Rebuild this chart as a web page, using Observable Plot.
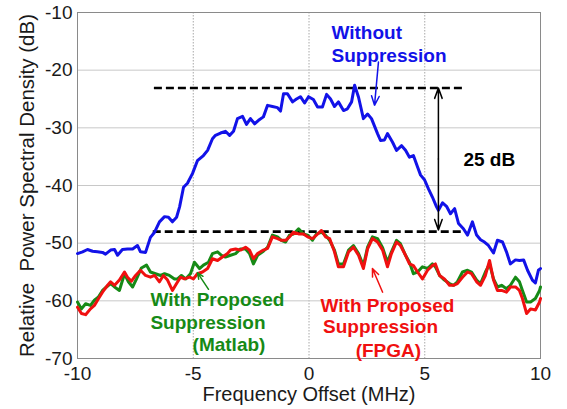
<!DOCTYPE html>
<html>
<head>
<meta charset="utf-8">
<script src="https://cdn.jsdelivr.net/npm/d3@7"></script>
<script src="https://cdn.jsdelivr.net/npm/@observablehq/plot@0.6"></script>
<style>
  html, body { margin: 0; padding: 0; background: white; }
</style>
</head>
<body>
<div id="chart"></div>
<script>
// ---- data ----
const xTicks = [-10, -5, 0, 5, 10];
const yTicks = [-70, -60, -50, -40, -30, -20, -10];
const xLabel = "Frequency Offset (MHz)";
const yLabel = "Relative\u00a0\u00a0Power Spectral Density (dB)";

// Without suppression (blue)
const freqBlue = [-10.00,-9.78,-9.57,-9.35,-9.14,-8.92,-8.79,-8.57,-8.40,-8.27,-8.06,-7.84,-7.62,-7.41,-7.28,-7.06,-6.85,-6.67,-6.46,-6.24,-6.07,-5.90,-5.72,-5.59,-5.42,-5.25,-5.03,-4.82,-4.56,-4.38,-4.17,-4.04,-3.82,-3.61,-3.43,-3.26,-3.09,-2.87,-2.70,-2.53,-2.35,-2.18,-1.97,-1.79,-1.58,-1.36,-1.23,-1.10,-0.93,-0.71,-0.54,-0.37,-0.19,-0.02,0.19,0.37,0.58,0.76,0.93,1.10,1.27,1.49,1.66,1.84,1.97,2.14,2.35,2.53,2.70,2.96,3.09,3.26,3.39,3.61,3.78,4.00,4.17,4.34,4.51,4.69,4.82,4.99,5.16,5.33,5.51,5.59,5.77,5.94,6.11,6.29,6.46,6.67,6.85,7.06,7.24,7.41,7.58,7.75,7.97,8.14,8.36,8.53,8.70,8.92,9.09,9.27,9.44,9.65,9.78,9.91,10.00];
const psdBlue = [-51.8,-51.5,-51.1,-51.4,-51.5,-51.6,-51.9,-51.2,-51.1,-52.1,-51.1,-51.0,-51.0,-50.4,-51.5,-51.6,-49.0,-48.1,-46.3,-45.4,-45.5,-46.3,-45.5,-43.7,-40.3,-39.6,-37.9,-35.7,-34.8,-33.9,-31.9,-31.3,-30.9,-30.6,-31.3,-30.6,-28.4,-28.0,-29.4,-28.4,-29.3,-28.7,-28.1,-26.1,-26.3,-26.5,-27.1,-24.1,-24.1,-25.5,-25.0,-24.6,-25.7,-24.6,-25.1,-26.4,-26.4,-24.2,-25.0,-26.3,-25.5,-27.0,-26.7,-25.5,-22.6,-24.7,-28.4,-27.6,-28.4,-31.0,-32.2,-32.1,-31.0,-32.5,-33.9,-33.1,-33.9,-35.1,-34.8,-36.8,-38.2,-39.0,-40.6,-42.0,-43.7,-44.3,-43.0,-43.6,-44.9,-44.0,-46.6,-47.5,-48.6,-46.3,-48.6,-49.4,-49.8,-50.4,-51.7,-49.5,-49.8,-51.5,-53.6,-52.9,-53.0,-52.9,-54.7,-56.4,-56.9,-54.7,-54.4];

// With proposed suppression, Matlab (green)
const freqGreen = [-10.00,-9.83,-9.65,-9.44,-9.27,-9.09,-8.92,-8.75,-8.57,-8.40,-8.19,-7.97,-7.80,-7.62,-7.45,-7.24,-7.02,-6.85,-6.63,-6.41,-6.24,-6.03,-5.81,-5.68,-5.51,-5.33,-5.12,-4.95,-4.73,-4.56,-4.34,-4.17,-3.95,-3.78,-3.61,-3.39,-3.17,-2.96,-2.74,-2.57,-2.40,-2.22,-1.97,-1.79,-1.58,-1.36,-1.19,-1.01,-0.84,-0.67,-0.45,-0.24,-0.06,0.15,0.32,0.54,0.71,0.89,1.10,1.27,1.49,1.71,1.92,2.14,2.35,2.53,2.74,2.96,3.18,3.39,3.56,3.78,3.95,4.17,4.34,4.51,4.69,4.90,5.12,5.33,5.46,5.64,5.85,6.07,6.24,6.41,6.63,6.85,7.02,7.24,7.41,7.62,7.80,7.97,8.14,8.32,8.53,8.70,8.92,9.09,9.22,9.40,9.57,9.78,9.96,10.00];
const psdGreen = [-60.2,-61.4,-60.5,-60.8,-59.9,-59.3,-58.2,-57.6,-57.0,-57.6,-58.2,-55.3,-56.7,-57.6,-56.2,-54.3,-53.8,-55.0,-55.3,-55.6,-55.3,-55.6,-56.2,-56.2,-55.6,-56.2,-55.3,-53.3,-54.4,-53.8,-53.3,-51.8,-51.5,-52.1,-52.4,-52.1,-51.8,-51.0,-51.0,-51.8,-53.6,-52.1,-51.4,-50.7,-48.6,-48.9,-49.5,-49.8,-48.6,-48.4,-47.5,-48.4,-48.6,-49.5,-48.4,-48.1,-48.6,-49.5,-51.2,-53.6,-53.6,-51.2,-50.4,-51.8,-53.9,-50.7,-48.9,-49.2,-50.8,-53.3,-51.5,-49.5,-50.1,-52.1,-53.3,-55.3,-55.0,-54.1,-54.4,-53.6,-54.1,-55.6,-56.4,-57.0,-57.3,-56.7,-55.0,-54.7,-55.0,-56.4,-57.0,-55.0,-53.6,-56.2,-57.6,-57.3,-57.9,-57.3,-55.9,-56.7,-58.2,-60.2,-60.2,-59.6,-58.2,-57.6];

// With proposed suppression, FPGA (red)
const freqRed = [-10.00,-9.83,-9.65,-9.44,-9.27,-9.09,-8.92,-8.70,-8.57,-8.40,-8.19,-7.97,-7.84,-7.67,-7.49,-7.28,-7.06,-6.85,-6.67,-6.46,-6.29,-6.11,-5.90,-5.72,-5.55,-5.38,-5.16,-4.99,-4.82,-4.60,-4.38,-4.17,-3.95,-3.74,-3.52,-3.39,-3.17,-2.96,-2.74,-2.57,-2.40,-2.22,-1.97,-1.79,-1.58,-1.36,-1.19,-1.01,-0.84,-0.67,-0.45,-0.24,-0.06,0.15,0.32,0.54,0.71,0.89,1.10,1.27,1.49,1.71,1.92,2.14,2.35,2.53,2.74,2.96,3.18,3.39,3.56,3.78,3.95,4.17,4.34,4.51,4.69,4.90,5.12,5.33,5.46,5.64,5.85,6.07,6.24,6.41,6.63,6.85,7.02,7.24,7.41,7.62,7.80,7.97,8.14,8.32,8.53,8.70,8.92,9.09,9.22,9.40,9.57,9.78,9.96,10.00];
const psdRed = [-61.1,-62.2,-62.4,-61.4,-60.8,-59.6,-58.5,-57.3,-56.7,-57.3,-56.4,-55.0,-55.9,-56.6,-55.6,-54.7,-55.6,-55.9,-55.6,-56.7,-55.6,-56.4,-58.2,-57.0,-55.9,-56.2,-55.9,-56.2,-55.3,-55.0,-54.4,-52.7,-53.0,-52.4,-51.8,-51.2,-51.0,-51.2,-50.7,-51.2,-52.7,-51.8,-51.2,-50.9,-48.9,-49.2,-49.5,-49.5,-48.9,-48.1,-48.4,-48.4,-48.9,-49.2,-48.6,-47.8,-48.9,-49.2,-51.5,-54.1,-54.1,-51.5,-50.7,-52.1,-54.4,-51.0,-49.2,-49.8,-51.2,-54.1,-51.8,-49.8,-50.4,-52.1,-53.6,-53.9,-55.0,-56.2,-54.7,-53.9,-53.6,-55.6,-56.2,-57.3,-57.3,-57.0,-55.9,-55.0,-55.3,-56.7,-57.3,-55.6,-53.0,-56.4,-58.2,-58.2,-58.5,-57.6,-57.6,-58.2,-59.6,-62.2,-61.4,-61.6,-60.2,-59.6];

// Annotations (in data units)
const dashLevels = [-23.1, -48.0];
const dashFrom = [-6.7, -6.75];
const dashTo = [6.65, 6.7];
const gapX = 5.59;
const gapTop = -23.1;
const gapBottom = -47.7;
const gapLabel = "25 dB";

const blueLines = ["Without", "Suppression"];
const blueLineX = [0.97, 0.97];
const blueLineY = [-13.6, -17.45];
const blueArrow = {x1: 3.0, y1: -18.6, x2: 2.83, y2: -26.1};

const greenLines = ["With Proposed", "Suppression", "(Matlab)"];
const greenLineX = [-6.85, -6.85, -5.03];
const greenLineY = [-59.9, -63.9, -67.7];
const greenArrow = {x1: -4.34, y1: -58.0, x2: -4.82, y2: -55.1};

const redLines = ["With Proposed", "Suppression", "(FPGA)"];
const redLineX = [3.39, 3.09, 3.43];
const redLineY = [-60.8, -64.6, -68.6];
const redArrow = {x1: 3.18, y1: -58.5, x2: 2.74, y2: -54.4};

// ---- build tables ----
const toRows = (fx, py) => fx.map((f, i) => ({f, p: py[i]}));
const blue = toRows(freqBlue, psdBlue);
const green = toRows(freqGreen, psdGreen);
const red = toRows(freqRed, psdRed);
const dashes = dashLevels.map((y, i) => ({y, x1: dashFrom[i], x2: dashTo[i]}));
const lineRows = (t, xs, ys) => t.map((s, i) => ({s, x: xs[i], y: ys[i]}));
const gapMid = (gapTop + gapBottom) / 2;
const gapArrows = [
  {x1: gapX, y1: gapMid, x2: gapX, y2: gapTop},
  {x1: gapX, y1: gapMid, x2: gapX, y2: gapBottom}
];

const fmt = d => String(d);
const font = "'Liberation Sans', Arial, sans-serif";

const chart = Plot.plot({
  width: 567,
  height: 409,
  marginLeft: 77,
  marginRight: 27,
  marginTop: 12,
  marginBottom: 51,
  x: {domain: [-10, 10]},
  y: {domain: [-70, -10]},
  style: {fontFamily: font, fontSize: "19px", color: "#1a1a1a", background: "white", overflow: "visible"},
  marks: [
    Plot.gridX(xTicks, {stroke: "#a8a8a8", strokeOpacity: 1, strokeDasharray: "1.5,1.5"}),
    Plot.gridY(yTicks, {stroke: "#c8c8c8", strokeOpacity: 1}),
    Plot.frame({stroke: "#8a8a8a"}),
    Plot.axisX(xTicks, {tickSize: 0, tickPadding: 8, tickFormat: fmt, label: null, fontSize: 19}),
    Plot.axisY(yTicks, {tickSize: 0, tickPadding: 5, tickFormat: fmt, label: null, fontSize: 19}),
    Plot.text([xLabel], {frameAnchor: "bottom", dy: 36, lineAnchor: "middle", textAnchor: "middle", fontSize: 20, fill: "#1a1a1a"}),
    Plot.text([yLabel], {frameAnchor: "left", dx: -50, rotate: -90, lineAnchor: "middle", textAnchor: "middle", fontSize: 20.5, fill: "#1a1a1a"}),
    Plot.link(dashes, {x1: "x1", x2: "x2", y1: "y", y2: "y", stroke: "black", strokeWidth: 2.6, strokeDasharray: "8,4"}),
    Plot.line(green, {x: "f", y: "p", stroke: "#168a16", strokeWidth: 3}),
    Plot.line(red, {x: "f", y: "p", stroke: "#f01010", strokeWidth: 3}),
    Plot.line(blue, {x: "f", y: "p", stroke: "#1212e8", strokeWidth: 3}),
    Plot.arrow(gapArrows, {x1: "x1", y1: "y1", x2: "x2", y2: "y2", stroke: "black", strokeWidth: 1.5, headLength: 11, headAngle: 40}),
    Plot.text([gapLabel], {x: gapX, y: -35.6, dx: 25, textAnchor: "start", fontWeight: "bold", fontSize: 19, fill: "black"}),
    Plot.arrow([blueArrow], {x1: "x1", y1: "y1", x2: "x2", y2: "y2", stroke: "#1212e8", strokeWidth: 1.5, headLength: 10, headAngle: 45}),
    Plot.text(lineRows(blueLines, blueLineX, blueLineY), {x: "x", y: "y", text: "s", textAnchor: "start", fontWeight: "bold", fontSize: 19, fill: "#1212e8"}),
    Plot.arrow([greenArrow], {x1: "x1", y1: "y1", x2: "x2", y2: "y2", stroke: "#168a16", strokeWidth: 1.5, headLength: 9, headAngle: 45}),
    Plot.text(lineRows(greenLines, greenLineX, greenLineY), {x: "x", y: "y", text: "s", textAnchor: "start", fontWeight: "bold", fontSize: 19, fill: "#168a16"}),
    Plot.arrow([redArrow], {x1: "x1", y1: "y1", x2: "x2", y2: "y2", stroke: "#f01010", strokeWidth: 1.5, headLength: 9, headAngle: 45}),
    Plot.text(lineRows(redLines, redLineX, redLineY), {x: "x", y: "y", text: "s", textAnchor: "middle", fontWeight: "bold", fontSize: 19, fill: "#f01010"})
  ]
});
document.getElementById("chart").appendChild(chart);
</script>
</body>
</html>
